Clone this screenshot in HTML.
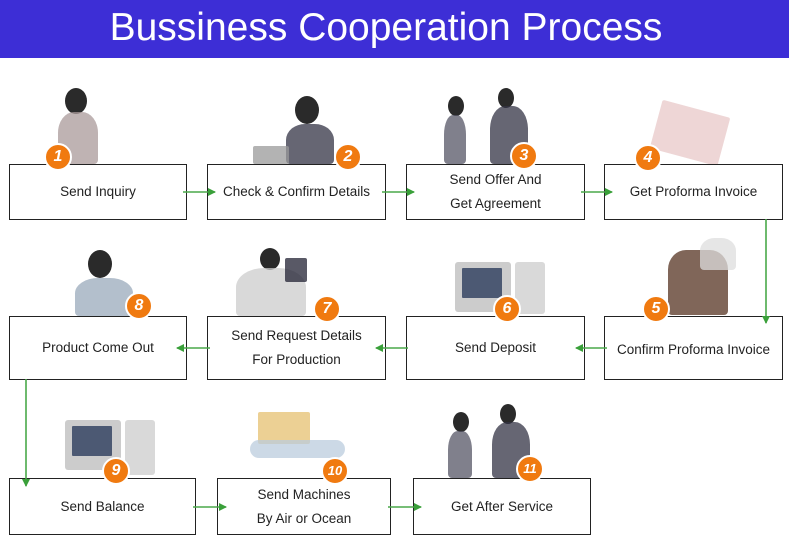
<!DOCTYPE html>
<html><head><style>
body{margin:0;width:789px;height:539px;background:#fff;position:relative;overflow:hidden;font-family:"Liberation Sans",sans-serif}
.ban{position:absolute;left:0;top:0;width:789px;height:58px;background:#3d2ed6;color:#fff;font-size:39px;text-align:center;line-height:56px}
.ban span{display:inline-block;margin-left:-17px}
.b{position:absolute;border:1.5px solid #222;background:#fff;box-sizing:border-box;display:flex;align-items:center;justify-content:center;text-align:center;font-size:13.5px;color:#222;line-height:24px}
.c{position:absolute;width:24px;height:24px;border-radius:50%;background:#f07a10;border:2px solid #fff;color:#fff;font-weight:bold;font-style:italic;font-size:16px;text-align:center;line-height:24px;z-index:2}
.p{position:absolute;background:#777;border-radius:40% 40% 4px 4px;opacity:.75}
.h{position:absolute;background:#2a2a2a;border-radius:50%}
svg{position:absolute;left:0;top:0}
</style></head><body>
<div class="ban"><span>Bussiness Cooperation Process</span></div>

<div class="h" style="left:65px;top:88px;width:22px;height:26px"></div><div class="p" style="left:58px;top:112px;width:40px;height:52px;background:#a99"></div>
<div class="h" style="left:295px;top:96px;width:24px;height:28px"></div><div class="p" style="left:286px;top:124px;width:48px;height:40px;background:#334"></div><div class="p" style="left:253px;top:146px;width:36px;height:18px;background:#999;border-radius:2px"></div>
<div class="h" style="left:448px;top:96px;width:16px;height:20px"></div><div class="p" style="left:444px;top:115px;width:22px;height:49px;background:#556"></div>
<div class="h" style="left:498px;top:88px;width:16px;height:20px"></div><div class="p" style="left:490px;top:106px;width:38px;height:58px;background:#334"></div>
<div class="p" style="left:655px;top:108px;width:70px;height:50px;background:#e8c8c8;border-radius:2px;transform:rotate(15deg)"></div>
<div class="h" style="left:260px;top:248px;width:20px;height:22px"></div><div class="p" style="left:236px;top:268px;width:70px;height:48px;background:#ccc"></div><div class="p" style="left:285px;top:258px;width:22px;height:24px;background:#223;border-radius:2px"></div>
<div class="p" style="left:455px;top:262px;width:56px;height:50px;background:#bbb;border-radius:3px"></div><div class="p" style="left:462px;top:268px;width:40px;height:30px;background:#235;border-radius:1px"></div><div class="p" style="left:515px;top:262px;width:30px;height:52px;background:#ccc;border-radius:3px"></div>
<div class="p" style="left:668px;top:250px;width:60px;height:65px;background:#532;border-radius:30% 30% 4px 4px"></div><div class="p" style="left:700px;top:238px;width:36px;height:32px;background:#ddd"></div>
<div class="h" style="left:88px;top:250px;width:24px;height:28px"></div><div class="p" style="left:75px;top:278px;width:58px;height:38px;background:#9ab"></div>
<div class="p" style="left:65px;top:420px;width:56px;height:50px;background:#bbb;border-radius:3px"></div><div class="p" style="left:72px;top:426px;width:40px;height:30px;background:#235;border-radius:1px"></div><div class="p" style="left:125px;top:420px;width:30px;height:55px;background:#ccc;border-radius:3px"></div>
<div class="p" style="left:258px;top:412px;width:52px;height:32px;background:#e6c070;border-radius:2px"></div><div class="p" style="left:250px;top:440px;width:95px;height:18px;background:#bcd;border-radius:9px"></div>
<div class="h" style="left:453px;top:412px;width:16px;height:20px"></div><div class="p" style="left:448px;top:431px;width:24px;height:47px;background:#556"></div>
<div class="h" style="left:500px;top:404px;width:16px;height:20px"></div><div class="p" style="left:492px;top:422px;width:38px;height:56px;background:#334"></div>

<div class="b" style="left:9px;top:164px;width:178px;height:56px">Send Inquiry</div>
<div class="b" style="left:207px;top:164px;width:179px;height:56px">Check &amp; Confirm Details</div>
<div class="b" style="left:406px;top:164px;width:179px;height:56px">Send Offer And<br>Get Agreement</div>
<div class="b" style="left:604px;top:164px;width:179px;height:56px">Get Proforma Invoice</div>
<div class="b" style="left:9px;top:316px;width:178px;height:64px">Product Come Out</div>
<div class="b" style="left:207px;top:316px;width:179px;height:64px">Send Request Details<br>For Production</div>
<div class="b" style="left:406px;top:316px;width:179px;height:64px">Send Deposit</div>
<div class="b" style="left:604px;top:316px;width:179px;height:64px;padding-top:4px">Confirm Proforma Invoice</div>
<div class="b" style="left:9px;top:478px;width:187px;height:57px">Send Balance</div>
<div class="b" style="left:217px;top:478px;width:174px;height:57px">Send Machines<br>By Air or Ocean</div>
<div class="b" style="left:413px;top:478px;width:178px;height:57px">Get After Service</div>

<div class="c" style="left:44px;top:143px">1</div>
<div class="c" style="left:334px;top:143px">2</div>
<div class="c" style="left:510px;top:142px">3</div>
<div class="c" style="left:634px;top:144px">4</div>
<div class="c" style="left:642px;top:295px">5</div>
<div class="c" style="left:493px;top:295px">6</div>
<div class="c" style="left:313px;top:295px">7</div>
<div class="c" style="left:125px;top:292px">8</div>
<div class="c" style="left:102px;top:457px">9</div>
<div class="c" style="left:321px;top:457px;font-size:13px">10</div>
<div class="c" style="left:516px;top:455px;font-size:13px">11</div>

<svg width="789" height="539">
<defs><marker id="a" markerWidth="8" markerHeight="8" refX="7" refY="4" orient="auto" markerUnits="userSpaceOnUse"><path d="M0,0 L8,4 L0,8 Z" fill="#3aa03a"/></marker></defs>
<g stroke="#4aa84a" stroke-width="1.6" fill="none" marker-end="url(#a)">
<line x1="183" y1="192" x2="215" y2="192"/>
<line x1="382" y1="192" x2="414" y2="192"/>
<line x1="581" y1="192" x2="612" y2="192"/>
<line x1="766" y1="219" x2="766" y2="323"/>
<line x1="607" y1="348" x2="576" y2="348"/>
<line x1="408" y1="348" x2="376" y2="348"/>
<line x1="210" y1="348" x2="177" y2="348"/>
<line x1="26" y1="379" x2="26" y2="486"/>
<line x1="193" y1="507" x2="226" y2="507"/>
<line x1="388" y1="507" x2="421" y2="507"/>
</g></svg>
</body></html>
